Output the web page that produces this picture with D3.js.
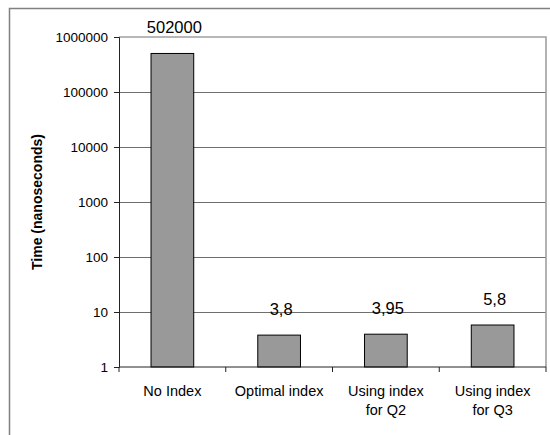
<!DOCTYPE html>
<html><head><meta charset="utf-8">
<script src="https://cdn.jsdelivr.net/npm/d3@7"></script>
<style>
html,body{margin:0;padding:0;background:#fff;}
svg{display:block;font-family:Arial,"Liberation Sans",sans-serif;}
</style></head>
<body>
<svg id="chart" width="550" height="435"></svg>
<script>
const categories = [["No Index"], ["Optimal index"], ["Using index", "for Q2"], ["Using index", "for Q3"]];
const values = [502000, 3.8, 3.95, 5.8];
const tickValues = [1, 10, 100, 1000, 10000, 100000, 1000000];
const yTitle = "Time (nanoseconds)";

const svg = d3.select("#chart");
const mLeft = 119, mRight = 546, mTop = 37, mBottom = 367;

// outer frame
svg.append("path").attr("d", "M9.5,440 V8.5 H560")
  .attr("fill", "none").attr("stroke", "#808080").attr("stroke-width", 1.5);

const x = d3.scaleBand().domain(d3.range(values.length)).range([mLeft, mRight]).padding(0);
const y = d3.scaleLog().domain([1, 1e6]).range([mBottom, mTop]);

// gridlines
svg.append("g").selectAll("line").data(tickValues.filter(t => t > 1 && t < 1e6)).join("line")
  .attr("x1", mLeft).attr("x2", mRight)
  .attr("y1", d => Math.round(y(d)) + 0.5).attr("y2", d => Math.round(y(d)) + 0.5)
  .attr("stroke", "#6e6e6e").attr("stroke-width", 1);

// plot area border (top & right)
svg.append("path").attr("d", `M${mLeft},${mTop} H${mRight} V${mBottom}`)
  .attr("fill", "none").attr("stroke", "#a0a0a0").attr("stroke-width", 1.6);

// bars
const bw = x.bandwidth() * 0.4;
svg.append("g").selectAll("rect").data(values).join("rect")
  .attr("x", (d, i) => x(i) + (x.bandwidth() - bw) / 2)
  .attr("y", d => y(d))
  .attr("width", bw)
  .attr("height", d => mBottom - y(d))
  .attr("fill", "#999999").attr("stroke", "#000").attr("stroke-width", 1);

// data labels
svg.append("g").selectAll("text").data(values).join("text")
  .attr("x", (d, i) => x(i) + x.bandwidth() / 2 + 2)
  .attr("y", d => y(d) - 20)
  .attr("text-anchor", "middle")
  .attr("font-size", "16.5px").attr("fill", "#000")
  .text(d => String(d).replace(".", ","));

// y axis
const yAxis = d3.axisLeft(y).tickValues(tickValues).tickFormat(d3.format("d")).tickSize(5).tickPadding(6);
const gy = svg.append("g").attr("transform", `translate(${mLeft},0)`).call(yAxis);
gy.select(".domain").attr("stroke", "#222");
gy.selectAll(".tick line").attr("stroke", "#222");
gy.selectAll(".tick text").attr("font-size", "13.5px").attr("fill", "#000");
gy.attr("font-family", null).attr("font-size", null);

// x axis
const gx = svg.append("g").attr("transform", `translate(0,${mBottom})`);
gx.append("line").attr("x1", mLeft).attr("x2", mRight).attr("stroke", "#222");
const bounds = d3.range(values.length + 1).map(i => i < values.length ? x(i) : mRight);
gx.selectAll("line.tk").data(bounds).join("line").attr("class", "tk")
  .attr("x1", d => d).attr("x2", d => d).attr("y1", 0).attr("y2", 5).attr("stroke", "#222");
const labels = gx.selectAll("text.cat").data(categories).join("text").attr("class", "cat")
  .attr("text-anchor", "middle").attr("font-size", "14.5px").attr("fill", "#000");
labels.each(function(lines, i) {
  const t = d3.select(this);
  lines.forEach((ln, j) => {
    t.append("tspan").attr("x", x(i) + x.bandwidth() / 2).attr("y", 29 + j * 18.5).text(ln);
  });
});

// y title
svg.append("text")
  .attr("transform", `translate(42,${(mTop + mBottom) / 2}) rotate(-90)`)
  .attr("text-anchor", "middle").attr("font-size", "14px").attr("font-weight", "bold").attr("fill", "#000")
  .text(yTitle);
</script>
</body></html>
